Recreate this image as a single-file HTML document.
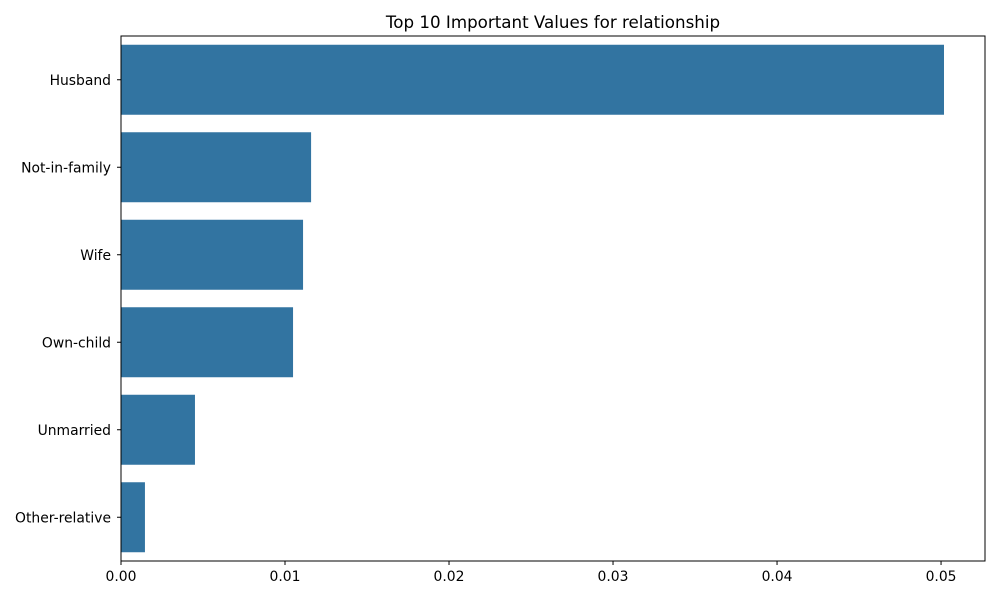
<!DOCTYPE html>
<html><head><meta charset="utf-8">
<style>
body{margin:0;background:#fff;font-family:"DejaVu Sans","Liberation Sans",sans-serif;}
svg text{font-family:"DejaVu Sans","Liberation Sans",sans-serif;}
</style></head>
<body>
<svg id="chart" width="1000" height="600">
<text x="553" y="28" text-anchor="middle" font-size="16.7">Top 10 Important Values for relationship</text>
<g id="bars"></g>
<g id="axes"></g>
</svg>
<script>
const categories = ["Husband","Not-in-family","Wife","Own-child","Unmarried","Other-relative"];
const values = [0.05018,0.01159,0.0111,0.01049,0.00451,0.00146];
const xTicks = [0,0.01,0.02,0.03,0.04,0.05];
const xTickLabels = ["0.00","0.01","0.02","0.03","0.04","0.05"];

const L=121,R=985,T=36,B=561,xMax=0.05268;
const ns="http://www.w3.org/2000/svg";
const xs=v=>L+(v/xMax)*(R-L);
const band=(B-T)/categories.length;
const ys=i=>T+band*i;
function mk(t,a,p){const e=document.createElementNS(ns,t);for(const k in a)e.setAttribute(k,a[k]);p.appendChild(e);return e;}
const bars=document.getElementById('bars'),axes=document.getElementById('axes');
categories.forEach((c,i)=>{
  const r=mk('rect',{x:L,y:ys(i)+band*0.1,width:xs(values[i])-L,height:band*0.8,fill:'#3274a1'},bars);
  
  
  const cy=ys(i)+band/2;
  mk('line',{x1:L-4,x2:L,y1:cy,y2:cy,stroke:'#000','stroke-width':1},axes);
  const t=mk('text',{x:L-10,y:cy+5,'text-anchor':'end','font-size':13.9},axes);
  t.textContent=c;
  
  
});
xTicks.forEach((v,i)=>{
  const x=xs(v);
  mk('line',{x1:x,x2:x,y1:B,y2:B+4,stroke:'#000','stroke-width':1},axes);
  const t=mk('text',{x:x,y:B+20,'text-anchor':'middle','font-size':13.9},axes);
  t.textContent=xTickLabels[i];
  
  
});
const f=mk('rect',{x:L,y:T,width:R-L,height:B-T,fill:'none',stroke:'#000','stroke-width':1},axes);


</script>
</body></html>
